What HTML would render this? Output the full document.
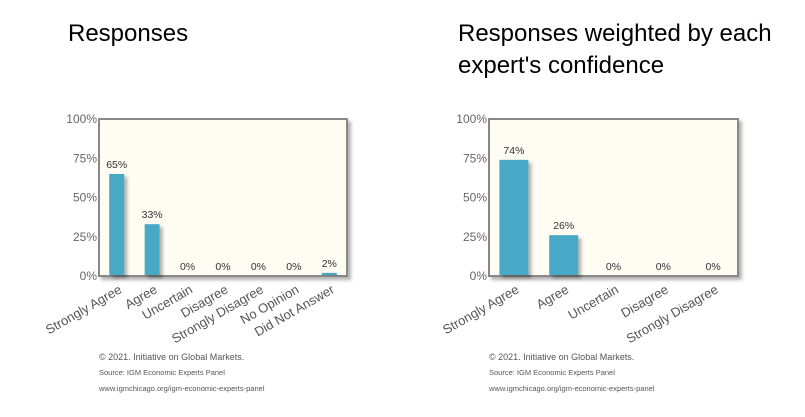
<!DOCTYPE html>
<html><head><meta charset="utf-8"><style>
body{margin:0;background:#fff;width:805px;height:417px;overflow:hidden;font-family:"Liberation Sans",sans-serif}
svg{position:absolute;left:0;top:0}
</style></head><body>
<svg id="s" width="805" height="417" xmlns="http://www.w3.org/2000/svg">
<defs><filter id="sh" x="-20%" y="-20%" width="160%" height="160%"><feDropShadow dx="3" dy="3" stdDeviation="1.5" flood-color="#000" flood-opacity="0.3"/></filter></defs>
<text x="68" y="41" font-size="24" fill="#000">Responses</text>
<text x="458" y="41" font-size="24" fill="#000">Responses weighted by each</text>
<text x="458" y="73" font-size="24" fill="#000">expert's confidence</text>
</svg>
<script>
const leftCategories=["Strongly Agree","Agree","Uncertain","Disagree","Strongly Disagree","No Opinion","Did Not Answer"];
const leftValues=[65,33,0,0,0,0,2];
const rightCategories=["Strongly Agree","Agree","Uncertain","Disagree","Strongly Disagree"];
const rightValues=[74,26,0,0,0];
const yTicks=[0,25,50,75,100];
const NS="http://www.w3.org/2000/svg";
const svg=document.getElementById('s');
function mk(tag,attrs,parent){const e=document.createElementNS(NS,tag);for(const k in attrs)e.setAttribute(k,attrs[k]);(parent||svg).appendChild(e);return e;}
function chart(prefix,x0,x1,cats,vals,barW){
  const y0=119,y1=276;
  const g=mk('g',{});
  
  
  const yS=v=>y1-(v/100)*(y1-y0);
  const band=(x1-x0)/cats.length;
  const xC=i=>x0+band*(i+0.5);
  const bg=mk('rect',{x:x0,y:y0,width:x1-x0,height:y1-y0,fill:'#fffcf3',stroke:'#888','stroke-width':2,filter:'url(#sh)'},g);
  
  
  yTicks.forEach(t=>{
    const tx=mk('text',{x:x0-2,y:yS(t)+4,'font-size':12,fill:'#666','text-anchor':'end'},g);
    tx.textContent=t+'%';
    
    
  });
  cats.forEach((c,i)=>{
    const v=vals[i];
    if(v>0){
      const b=mk('rect',{x:xC(i)-barW/2,y:yS(v),width:barW,height:y1-yS(v)-1,fill:'#47a9c5',filter:'url(#sh)'},g);
      
      
    }
    const vl=mk('text',{x:xC(i),y:yS(v)-6,'font-size':10.5,fill:'#333','text-anchor':'middle'},g);
    vl.textContent=v+'%';
    
    
    const cl=mk('text',{x:xC(i)+6,y:y1+16,'font-size':13,fill:'#555','text-anchor':'end',transform:`rotate(-30 ${xC(i)+6} ${y1+16})`},g);
    cl.textContent=c;
    
    
  });
  const f1=mk('text',{x:x0,y:360,'font-size':9,fill:'#555'},g);f1.textContent='© 2021. Initiative on Global Markets.';
  
  
  const f2=mk('text',{x:x0,y:375,'font-size':7.5,fill:'#555'},g);f2.textContent='Source: IGM Economic Experts Panel';
  
  
  const f3=mk('text',{x:x0,y:391,'font-size':7.5,fill:'#555'},g);f3.textContent='www.igmchicago.org/igm-economic-experts-panel';
  
  
}
chart('left',99,347,leftCategories,leftValues,15);
chart('right',489,738,rightCategories,rightValues,29);
</script>
</body></html>
